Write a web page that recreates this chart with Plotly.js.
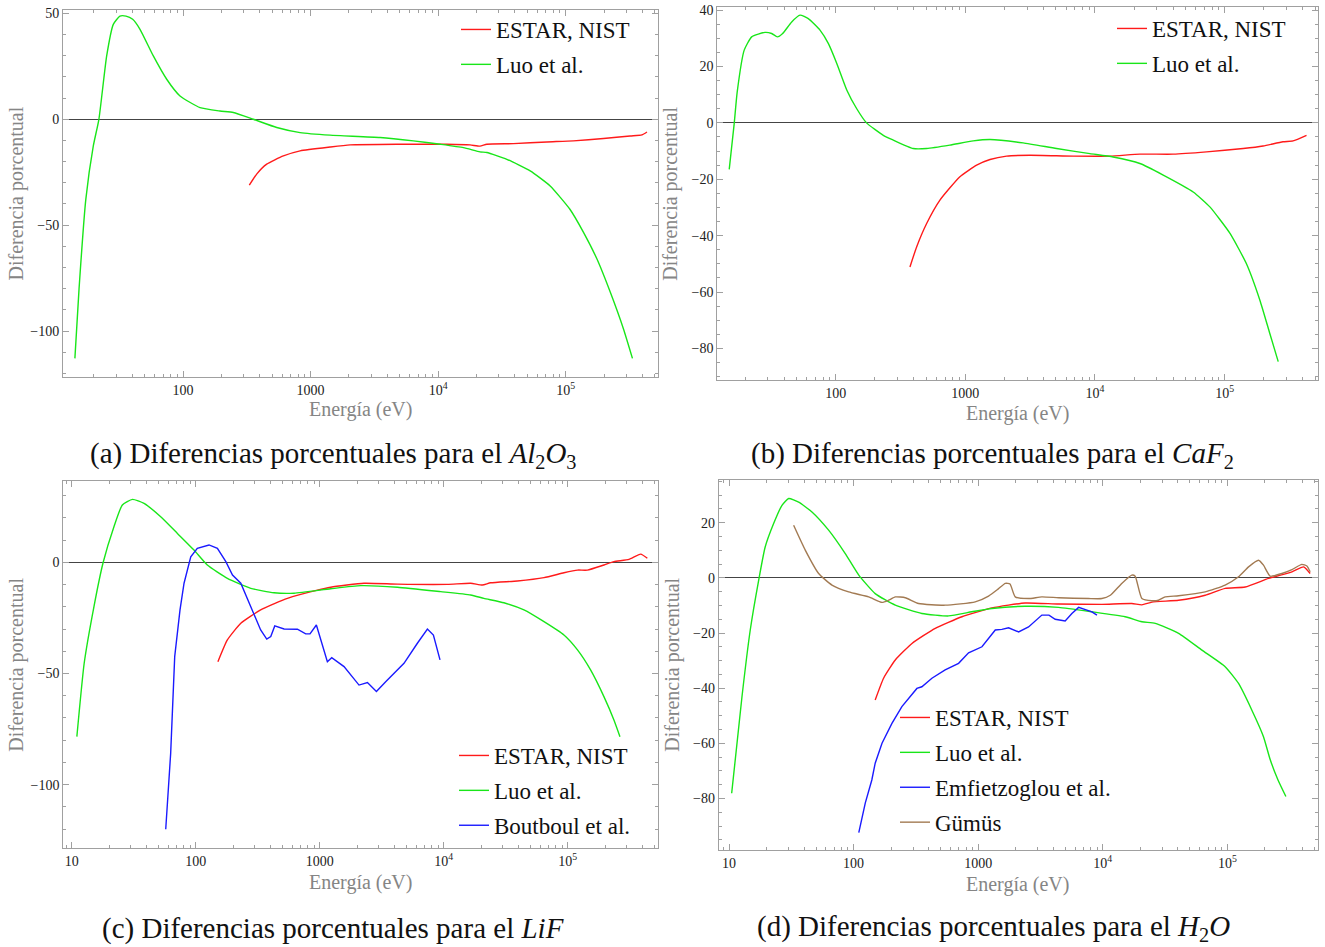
<!DOCTYPE html>
<html>
<head>
<meta charset="utf-8">
<script src="https://cdn.plot.ly/plotly-3.0.1.min.js"></script>
<style>html,body{margin:0;padding:0;background:#fff;}#chart{width:1325px;height:947px;}</style>
</head>
<body>
<div id="chart"></div>
<script>
// ---------- DATA (energies in eV, percent differences) ----------
// (a) Al2O3
const aLuoE = [14.2, 15.3, 17.3, 19.8, 21.9, 25.2, 28.4, 32, 35.7, 40.3, 46, 58.5, 74.5, 94.7, 136, 195, 248, 356, 543, 828, 1423, 3508, 6400, 10400, 15800, 21300, 24100, 34600, 52700, 75600, 108000, 138000, 176000, 224000, 284000, 334000];
const aLuoD = [-112.9, -80.2, -37.7, -12.6, 0, 29.9, 44.8, 48.7, 48.7, 47.2, 42.5, 29.9, 18.9, 11, 5.5, 3.9, 3.2, 0, -3.9, -6.3, -7.5, -8.6, -10.2, -11.8, -13.4, -15.4, -15.7, -18.9, -24.4, -31.5, -42.5, -53.4, -66, -81.7, -99, -112.9];
const aEstarE = [331, 378, 453, 612, 828, 1423, 2042, 4740, 11700, 17800, 21300, 24100, 39000, 71300, 115000, 198000, 320000, 396000, 434000];
const aEstarD = [-31.1, -25.9, -21.2, -17.3, -14.9, -13.1, -12.1, -11.8, -11.8, -12.1, -12.7, -11.8, -11.5, -10.7, -10.2, -9.1, -7.9, -7.4, -6.0];

// (b) CaF2
const bLuoE = [15.1, 16.5, 17.4, 19.7, 22.5, 28.5, 32.1, 35.5, 39, 45.8, 53.1, 61.5, 75.7, 87.7, 102, 122, 145, 173, 233, 278, 396, 503, 760, 1150, 1550, 2790, 5050, 9140, 13800, 22200, 33600, 57200, 76900, 110000, 147000, 187000, 223000, 259000];
const bLuoD = [-16.5, -0.2, 11, 25.8, 30.5, 32.1, 31.7, 30.5, 31.7, 35.8, 38.2, 37, 32.9, 28.2, 21.1, 11.6, 5.1, 0, -4.4, -6.1, -9.1, -9.1, -7.9, -6.4, -5.9, -7.1, -9.1, -10.9, -12.1, -14.4, -18.5, -24.5, -29.8, -39.2, -49.9, -62.9, -74.7, -84.7];
const bEstarE = [374, 421, 503, 637, 908, 1222, 1550, 2080, 3150, 6790, 13000, 22200, 40100, 72500, 139000, 198000, 282000, 337000, 428000];
const bEstarD = [-51.1, -44, -35.7, -27.4, -19.1, -15, -13, -11.8, -11.5, -11.8, -11.8, -11.1, -11.1, -10.3, -9.1, -8.2, -6.7, -6.4, -4.4];

// (c) LiF
const cLuoE = [11, 12.6, 15.1, 17.9, 21.9, 25.6, 30.9, 38.3, 52.2, 71.2, 96.9, 124, 180, 278, 428, 621, 1227, 2140, 4240, 9460, 16500, 21100, 30600, 44400, 64400, 93300, 120000, 153000, 196000, 236000, 264000];
const cLuoD = [-78.4, -45.4, -20, -0.2, 16, 25.8, 28.3, 26.5, 20.5, 13, 5.5, -1.2, -7.2, -11.7, -13.7, -13.9, -11.9, -10.5, -11.2, -13.2, -14.7, -16.2, -18.2, -21.4, -26.7, -32.7, -39.4, -48.4, -60.4, -70.9, -78.4];
const cEstarE = [151, 180, 231, 334, 549, 957, 1227, 2275, 4240, 10700, 16500, 20500, 23900, 39300, 64400, 93300, 120000, 144000, 196000, 236000, 312000, 388000, 439000];
const cEstarD = [-44.7, -34.9, -27.4, -21.4, -16.2, -12.5, -11.2, -9.4, -9.8, -9.9, -9.4, -10.2, -9.2, -8.4, -6.9, -4.7, -3.5, -3.5, -1.2, 0.3, 1.3, 3.7, 1.8];
const cBoutE = [57.3, 62.8, 67.7, 74.7, 80.5, 91.2, 103, 128, 149.6, 175, 198, 231, 278, 334, 374, 403, 434, 516, 661, 771, 835, 940, 1153, 1250, 1571, 2075, 2426, 2867, 3404, 4784, 6134, 7390, 8260, 9340];
const cBoutD = [-120, -85.9, -42.4, -21.4, -9.4, 2.5, 6.3, 7.8, 6.3, 0.3, -5.7, -9.4, -20, -30.4, -34.5, -33.4, -28.6, -30, -30.1, -32.2, -32.2, -28.2, -44.7, -42.9, -46.9, -55.2, -54.1, -58.1, -53.7, -45.4, -36.4, -30, -32.7, -43.9];

// (d) H2O
const dLuoE = [10.5, 12.7, 14.8, 17.3, 19.5, 22.8, 26.6, 30.1, 36.2, 46.3, 63, 85.7, 110, 149, 216, 353, 578, 889, 1288, 2382, 4416, 8180, 15100, 20600, 26400, 40600, 62500, 96000, 123000, 157000, 195000, 221000, 255000, 295000];
const dLuoD = [-78.1, -43.1, -18.9, -0.8, 11.2, 19.7, 26.3, 28.8, 27.5, 23.9, 17.3, 8.8, 1, -5.7, -9.9, -12.9, -13.8, -12.3, -11.1, -10.3, -10.7, -12.3, -14.1, -15.9, -16.5, -20.1, -26.2, -32.2, -38.3, -47.9, -57.6, -66, -73.3, -79.3];
const dEstarE = [149, 174, 216, 294, 452, 740, 1288, 2382, 4416, 9840, 17100, 20600, 24800, 40600, 66400, 96000, 139000, 214000, 330000, 409000, 462000];
const dEstarD = [-44.3, -36.4, -29.8, -23.8, -18.3, -14.1, -10.9, -9.1, -9.5, -9.6, -9.3, -9.8, -8.8, -8.1, -6.3, -3.8, -3.3, -0.2, 2.2, 4, 1.6];
const dEmfE = [110, 124, 140, 149, 169, 203, 244, 322, 353, 425, 543, 696, 837, 1072, 1371, 1549, 1753, 2110, 2536, 3243, 3700, 4150, 4990, 5650, 6400, 7230, 8180, 8980];
const dEmfD = [-92.4, -81.7, -73.3, -67.2, -60, -52.8, -46.7, -40.1, -39.5, -36.4, -33.4, -31, -27.2, -25, -18.9, -18.7, -18.1, -19.6, -17.8, -13.5, -13.5, -15, -15.6, -12.9, -10.7, -11.5, -12.3, -13.5];
const dGumE = [33, 41, 52.4, 67, 91.2, 132, 169, 191, 216, 260, 332, 543, 946, 1211, 1450, 1650, 1800, 1983, 2536, 3243, 4416, 7690, 9840, 11500, 14200, 17100, 18200, 20600, 24800, 28000, 31700, 40600, 66400, 96000, 123000, 148000, 178000, 195000, 221000, 274000, 330000, 396000, 435000, 462000];
const dGumD = [19.1, 10, 1.6, -2.6, -5.1, -6.9, -8.9, -8.1, -6.9, -7.2, -9.3, -9.9, -8.7, -6.6, -4, -2, -2.2, -6.9, -7.5, -6.9, -7.2, -7.5, -7.5, -6.3, -2, 1, 0.6, -7.5, -8.3, -8.1, -6.9, -6.5, -5.1, -2.6, 0.4, 4, 6.4, 4.6, 0.6, 1.6, 3, 4.9, 4.3, 2.2];

// tick labels
const xTickVals = [10, 100, 1000, 10000, 100000];
const xTickText = ['10', '100', '1000', '10<sup>4</sup>', '10<sup>5</sup>'];

// series names
const nameEstar = 'ESTAR, NIST';
const nameLuo = 'Luo et al.';
const nameBout = 'Boutboul et al.';
const nameEmf = 'Emfietzoglou et al.';
const nameGum = 'Gümüs';

const captions = [
  '(a) Diferencias porcentuales para el <i>Al</i><sub>2</sub><i>O</i><sub>3</sub>',
  '(b) Diferencias porcentuales para el <i>CaF</i><sub>2</sub>',
  '(c) Diferencias porcentuales para el <i>LiF</i>',
  '(d) Diferencias porcentuales para el <i>H</i><sub>2</sub><i>O</i>'
];
const yTitle = 'Diferencia porcentual';
const xTitle = 'Energía (eV)';

// ---------- STYLE ----------
const W = 1325, H = 947;
const serif = 'Liberation Serif, Times New Roman, serif';
const RED = '#ff1a1a', GREEN = '#19e619', BLUE = '#1a1aff', BROWN = '#a27a52';
const frameCol = '#a0a0a0';

const minorAll = [];
for (let k = 0; k <= 5; k++) for (let m = 2; m <= 9; m++) minorAll.push(m * Math.pow(10, k));

// panel geometry in pixels: [left, right, top, bottom]; caption centre [x, y]
const panels = [
  {px: [63, 658, 10, 377], xr: [1.059, 5.724], yr: [-121.7, 51.6], dy: 50, my: 10, cap: [332.5, 455], xt: [360, 410]},
  {px: [717.3, 1318, 7, 380], xr: [1.087, 5.72], yr: [-91.2, 41.1], dy: 20, my: 5, cap: [992, 455], xt: [1017, 413]},
  {px: [63.3, 657.7, 480.7, 848.3], xr: [0.932, 5.726], yr: [-128.6, 36.7], dy: 50, my: 10, cap: [332.5, 928], xt: [360, 882]},
  {px: [718.7, 1318.3, 480, 850], xr: [0.917, 5.73], yr: [-98.7, 35.5], dy: 20, my: 5, cap: [993.5, 928], xt: [1017, 884]}
];

const layout = {
  width: W, height: H,
  margin: {l: 0, r: 0, t: 0, b: 0},
  paper_bgcolor: '#fff', plot_bgcolor: '#fff',
  showlegend: true,
  annotations: [],
  font: {family: serif}
};

panels.forEach((p, i) => {
  const sfx = i === 0 ? '' : String(i + 1);
  const xd = [p.px[0] / W, p.px[1] / W];
  const yd = [1 - p.px[3] / H, 1 - p.px[2] / H];
  const inR = v => Math.log10(v) >= p.xr[0] && Math.log10(v) <= p.xr[1];
  const tv = [], tt = [];
  xTickVals.forEach((v, j) => { if (inR(v)) { tv.push(v); tt.push(xTickText[j]); } });
  const mv = minorAll.filter(inR);
  layout['xaxis' + sfx] = {
    type: 'log', domain: xd, range: p.xr, anchor: 'y' + sfx,
    showgrid: false, zeroline: false, showline: true, linecolor: frameCol, linewidth: 1,
    mirror: 'allticks', ticks: 'inside', ticklen: 6, tickwidth: 1, tickcolor: frameCol,
    tickmode: 'array', tickvals: tv, ticktext: tt,
    tickfont: {family: serif, size: 14, color: '#222'},
    minor: {tickmode: 'array', tickvals: mv, ticks: 'inside', ticklen: 3, tickcolor: frameCol, showgrid: false}
  };
  layout['yaxis' + sfx] = {
    domain: yd, range: p.yr, anchor: 'x' + sfx,
    showgrid: false, zeroline: true, zerolinecolor: '#444', zerolinewidth: 1,
    showline: true, linecolor: frameCol, linewidth: 1,
    mirror: 'allticks', ticks: 'inside', ticklen: 6, tickwidth: 1, tickcolor: frameCol,
    dtick: p.dy, tick0: 0,
    tickfont: {family: serif, size: 14, color: '#222'},
    minor: {dtick: p.my, ticks: 'inside', ticklen: 3, tickcolor: frameCol, showgrid: false}
  };
  const cy = (p.px[2] + p.px[3]) / 2;
  layout.annotations.push({
    xref: 'paper', yref: 'paper', x: (p.px[0] - 47) / W, y: 1 - cy / H,
    xanchor: 'center', yanchor: 'middle', textangle: -90, showarrow: false,
    text: yTitle, font: {family: serif, size: 20, color: '#858585'}
  });
  layout.annotations.push({
    xref: 'paper', yref: 'paper', x: p.xt[0] / W, y: 1 - p.xt[1] / H,
    xanchor: 'center', yanchor: 'middle', showarrow: false,
    text: xTitle, font: {family: serif, size: 20, color: '#858585'}
  });
  layout.annotations.push({
    xref: 'paper', yref: 'paper', x: p.cap[0] / W, y: 1 - p.cap[1] / H,
    xanchor: 'center', yanchor: 'middle', showarrow: false,
    text: captions[i], font: {family: serif, size: 29, color: '#111'}
  });
});

const legBase = {xanchor: 'left', yanchor: 'top', bgcolor: 'rgba(0,0,0,0)', borderwidth: 0,
  font: {family: serif, size: 23, color: '#111'}, tracegroupgap: 2, itemwidth: 30, traceorder: 'grouped'};
layout.legend = Object.assign({}, legBase, {x: 456 / W, y: 1 - 8 / H});
layout.legend2 = Object.assign({}, legBase, {x: 1112 / W, y: 1 - 7 / H});
layout.legend3 = Object.assign({}, legBase, {x: 454 / W, y: 1 - 734 / H});
layout.legend4 = Object.assign({}, legBase, {x: 895 / W, y: 1 - 696 / H});

function tr(x, y, name, color, ax, leg, grp, shape) {
  return {
    type: 'scatter', mode: 'lines', x: x, y: y, name: name,
    line: {color: color, width: 1.4, shape: shape || 'spline', smoothing: 0.5},
    xaxis: 'x' + ax, yaxis: 'y' + ax, legend: leg, legendgroup: grp, hoverinfo: 'skip'
  };
}

const data = [
  tr(aEstarE, aEstarD, nameEstar, RED, '', 'legend', 'a1'),
  tr(aLuoE, aLuoD, nameLuo, GREEN, '', 'legend', 'a2'),
  tr(bEstarE, bEstarD, nameEstar, RED, '2', 'legend2', 'b1'),
  tr(bLuoE, bLuoD, nameLuo, GREEN, '2', 'legend2', 'b2'),
  tr(cEstarE, cEstarD, nameEstar, RED, '3', 'legend3', 'c1'),
  tr(cLuoE, cLuoD, nameLuo, GREEN, '3', 'legend3', 'c2'),
  tr(cBoutE, cBoutD, nameBout, BLUE, '3', 'legend3', 'c3', 'linear'),
  tr(dEstarE, dEstarD, nameEstar, RED, '4', 'legend4', 'd1'),
  tr(dLuoE, dLuoD, nameLuo, GREEN, '4', 'legend4', 'd2'),
  tr(dEmfE, dEmfD, nameEmf, BLUE, '4', 'legend4', 'd3', 'linear'),
  tr(dGumE, dGumD, nameGum, BROWN, '4', 'legend4', 'd4')
];

Plotly.newPlot('chart', data, layout, {displayModeBar: false, staticPlot: true});
</script>
</body>
</html>
